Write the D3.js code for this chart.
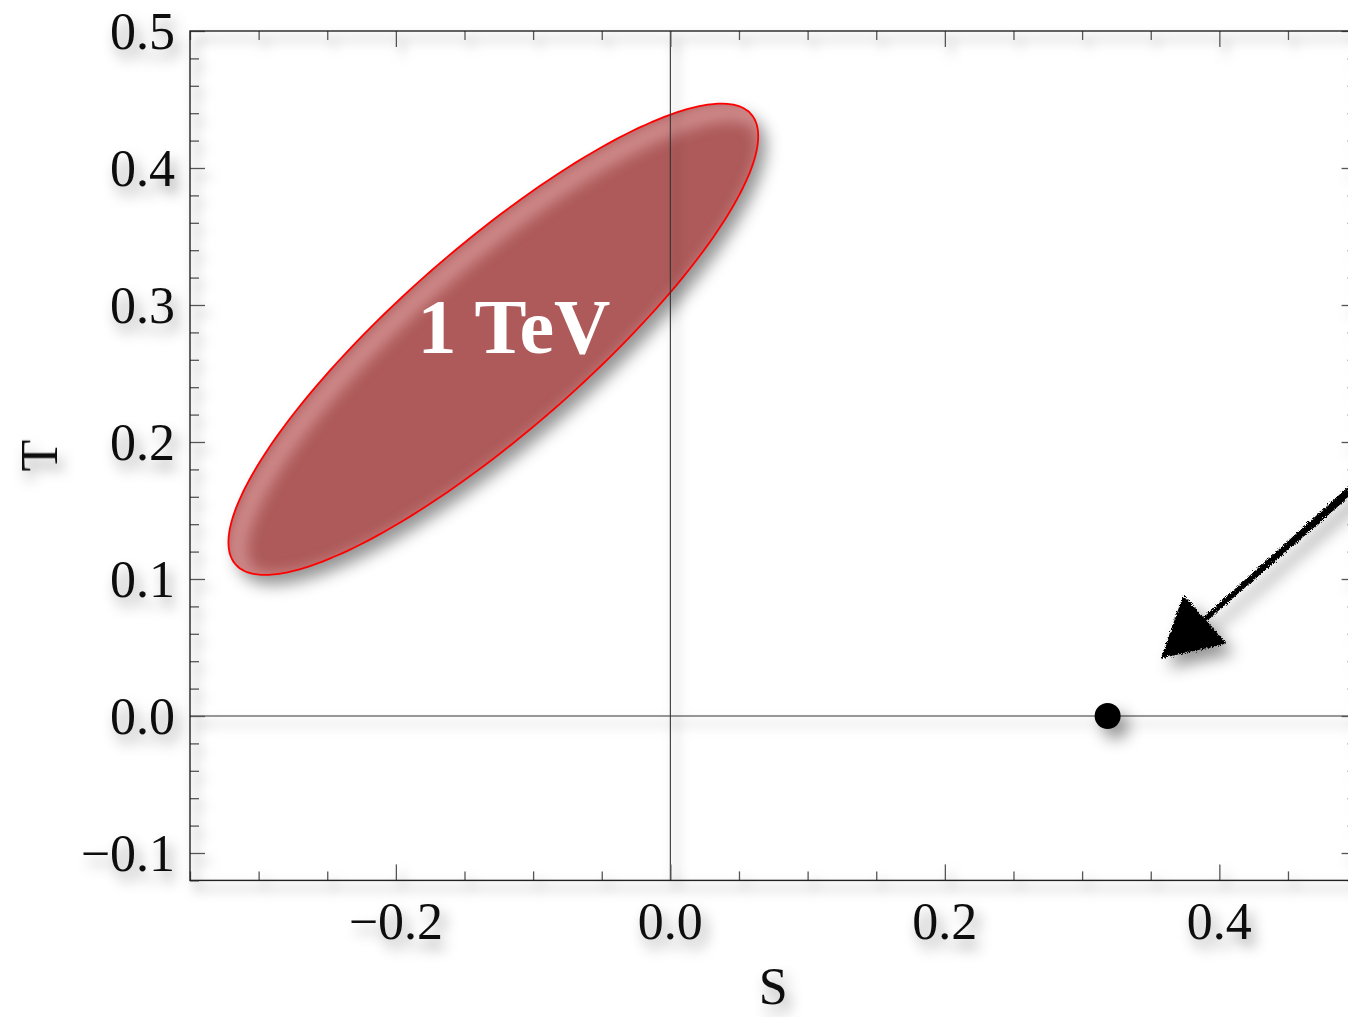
<!DOCTYPE html>
<html>
<head>
<meta charset="utf-8">
<script src="https://cdn.jsdelivr.net/npm/d3@7"></script>
<style>
  html, body { margin: 0; padding: 0; background: #fff; }
  svg { display: block; font-family: "Liberation Serif", "Times New Roman", serif; }
</style>
</head>
<body>
<div id="chart"></div>
<script>
// axis ticks
const xMajor = [-0.2, 0.0, 0.2, 0.4];
const yMajor = [-0.1, 0.0, 0.1, 0.2, 0.3, 0.4, 0.5];
const xMinorStep = 0.05, yMinorStep = 0.02;
const xDomain = [-0.35, 0.5], yDomain = [-0.12, 0.5];

// 1 TeV region: centre, half extents in S and T, correlation
const ellCenter = [-0.129, 0.275];
const ellHalf = [0.193, 0.172];
const ellRho = 0.862;
const ellLabel = { text: "1 TeV", at: [-0.114, 0.265] };

// reference point and arrow
const points = [[0.3186, 0.0]];
const arrowFrom = [0.56, 0.222], arrowTo = [0.3585, 0.043];

const W = 1348, H = 1017;
const margin = { left: 190, top: 31, right: -8.6, bottom: 136.6 };

const svg = d3.select("#chart").append("svg").attr("width", W).attr("height", H);
const defs = svg.append("defs");

function shadow(id, dx, dy, sd, op) {
  defs.append("filter").attr("id", id)
    .attr("x", "-100%").attr("y", "-100%").attr("width", "300%").attr("height", "300%")
    .append("feDropShadow")
    .attr("dx", dx).attr("dy", dy).attr("stdDeviation", sd)
    .attr("flood-color", "#000").attr("flood-opacity", op);
}
shadow("shLine", 6, 8, 6, 0.5);
shadow("shText", 5, 9, 7, 0.4);
shadow("shShape", 8, 10, 8, 0.42);

const rough = defs.append("filter").attr("id", "rough")
  .attr("x", "-20%").attr("y", "-20%").attr("width", "140%").attr("height", "140%");
rough.append("feTurbulence").attr("type", "fractalNoise")
  .attr("baseFrequency", 1.2).attr("numOctaves", 2).attr("result", "n");
rough.append("feDisplacementMap").attr("in", "SourceGraphic").attr("in2", "n")
  .attr("scale", 6).attr("xChannelSelector", "R").attr("yChannelSelector", "G");

const blur = defs.append("filter").attr("id", "soft");
blur.append("feGaussianBlur").attr("stdDeviation", 7);

const x = d3.scaleLinear().domain(xDomain).range([margin.left, W - margin.right]);
const y = d3.scaleLinear().domain(yDomain).range([H - margin.bottom, margin.top]);
const x0 = margin.left, x1 = W - margin.right, y0 = H - margin.bottom, y1 = margin.top;

const near = (v, arr) => arr.some(a => Math.abs(a - v) < 1e-6);
const xMinor = d3.range(-7, 11).map(i => +(i * xMinorStep).toFixed(3)).filter(v => !near(v, xMajor));
const yMinor = d3.range(-6, 26).map(i => +(i * yMinorStep).toFixed(3)).filter(v => !near(v, yMajor));

// ellipse outline from the centre / extent / correlation
const ellPts = d3.range(0, 360, 2).map(a => {
  const t = a * Math.PI / 180;
  return [
    ellCenter[0] + ellHalf[0] * Math.cos(t),
    ellCenter[1] + ellHalf[1] * (ellRho * Math.cos(t) + Math.sqrt(1 - ellRho * ellRho) * Math.sin(t))
  ];
});
const ellPath = d3.line().x(d => x(d[0])).y(d => y(d[1])).curve(d3.curveCardinalClosed)(ellPts);

defs.append("clipPath").attr("id", "ellClip").append("path").attr("d", ellPath);

// ellipse
const eg = svg.append("g");
eg.append("path").attr("d", ellPath).attr("fill", "#ae5a5a")
  .attr("filter", "url(#shShape)");
eg.append("g").attr("clip-path", "url(#ellClip)")
  .append("path").attr("d", ellPath)
  .attr("fill", "none").attr("stroke", "#d99a9a").attr("stroke-width", 20)
  .attr("transform", "translate(9,8)").attr("filter", "url(#soft)").attr("opacity", 0.75);
eg.append("path").attr("d", ellPath).attr("fill", "none")
  .attr("stroke", "#ff0000").attr("stroke-width", 1.8);

// frame, zero lines and ticks
const fg = svg.append("g").attr("filter", "url(#shLine)");
fg.append("line").attr("x1", x(0)).attr("x2", x(0)).attr("y1", y1).attr("y2", y0)
  .attr("stroke", "#333").attr("stroke-width", 1.1);
fg.append("line").attr("x1", x0).attr("x2", x1).attr("y1", y(0)).attr("y2", y(0))
  .attr("stroke", "#333").attr("stroke-width", 1.1);

function tickAxis(axisFn, scale, vals, size, tf) {
  const g = fg.append("g").attr("transform", tf)
    .call(axisFn(scale).tickValues(vals).tickSize(-size).tickFormat(""));
  g.select(".domain").remove();
  g.selectAll(".tick line").attr("stroke", "#555").attr("stroke-width", 1.3);
}
tickAxis(d3.axisBottom, x, xMajor, 16, `translate(0,${y0})`);
tickAxis(d3.axisBottom, x, xMinor, 9, `translate(0,${y0})`);
tickAxis(d3.axisTop, x, xMajor, 16, `translate(0,${y1})`);
tickAxis(d3.axisTop, x, xMinor, 9, `translate(0,${y1})`);
tickAxis(d3.axisLeft, y, yMajor, 15, `translate(${x0},0)`);
tickAxis(d3.axisLeft, y, yMinor, 9, `translate(${x0},0)`);
tickAxis(d3.axisRight, y, yMajor, 15, `translate(${x1},0)`);
tickAxis(d3.axisRight, y, yMinor, 9, `translate(${x1},0)`);

fg.append("rect").attr("x", x0).attr("y", y1).attr("width", x1 - x0).attr("height", y0 - y1)
  .attr("fill", "none").attr("stroke", "#222").attr("stroke-width", 1.4);

// tick labels
const fmt = d3.format(".1f");
const tg = svg.append("g").attr("filter", "url(#shText)").attr("font-size", 52).attr("fill", "#111");
tg.selectAll(".xl").data(xMajor).join("text")
  .attr("x", d => x(d)).attr("y", y0 + 59).attr("text-anchor", "middle").text(fmt);
tg.selectAll(".yl").data(yMajor).join("text")
  .attr("x", x0 - 15).attr("y", d => y(d)).attr("dy", "0.35em").attr("text-anchor", "end").text(fmt);
tg.append("text").attr("x", (x0 + x1) / 2).attr("y", 1004).attr("text-anchor", "middle").text("S");
tg.append("text").attr("transform", `translate(57,${(y0 + y1) / 2}) rotate(-90)`)
  .attr("text-anchor", "middle").text("T");

// label inside region
svg.append("text").attr("x", x(ellLabel.at[0])).attr("y", y(ellLabel.at[1]))
  .attr("text-anchor", "middle").attr("font-size", 78).attr("font-weight", "bold")
  .attr("fill", "#fff").text(ellLabel.text);

// point
svg.append("g").attr("filter", "url(#shShape)")
  .selectAll("circle").data(points).join("circle")
  .attr("cx", d => x(d[0])).attr("cy", d => y(d[1])).attr("r", 13).attr("fill", "#000");

// sketchy arrow
const ax0 = x(arrowFrom[0]), ay0 = y(arrowFrom[1]), ax1 = x(arrowTo[0]), ay1 = y(arrowTo[1]);
const len = Math.hypot(ax0 - ax1, ay0 - ay1), ux = (ax0 - ax1) / len, uy = (ay0 - ay1) / len;
const headLen = 56, headHalf = 31;
const bx = ax1 + ux * headLen, by = ay1 + uy * headLen;
const ag = svg.append("g").attr("filter", "url(#shShape)").append("g").attr("filter", "url(#rough)");
ag.append("path")
  .attr("d", `M${ax0 - uy * 5},${ay0 + ux * 5} L${bx - uy * 2.5},${by + ux * 2.5} L${bx + uy * 2.5},${by - ux * 2.5} L${ax0 + uy * 5},${ay0 - ux * 5}Z`)
  .attr("fill", "#000");
ag.append("path")
  .attr("d", `M${ax1},${ay1} L${bx - uy * headHalf},${by + ux * headHalf} L${bx + uy * headHalf},${by - ux * headHalf}Z`)
  .attr("fill", "#000").attr("stroke", "#000").attr("stroke-width", 2).attr("stroke-linejoin", "round");
</script>
</body>
</html>
